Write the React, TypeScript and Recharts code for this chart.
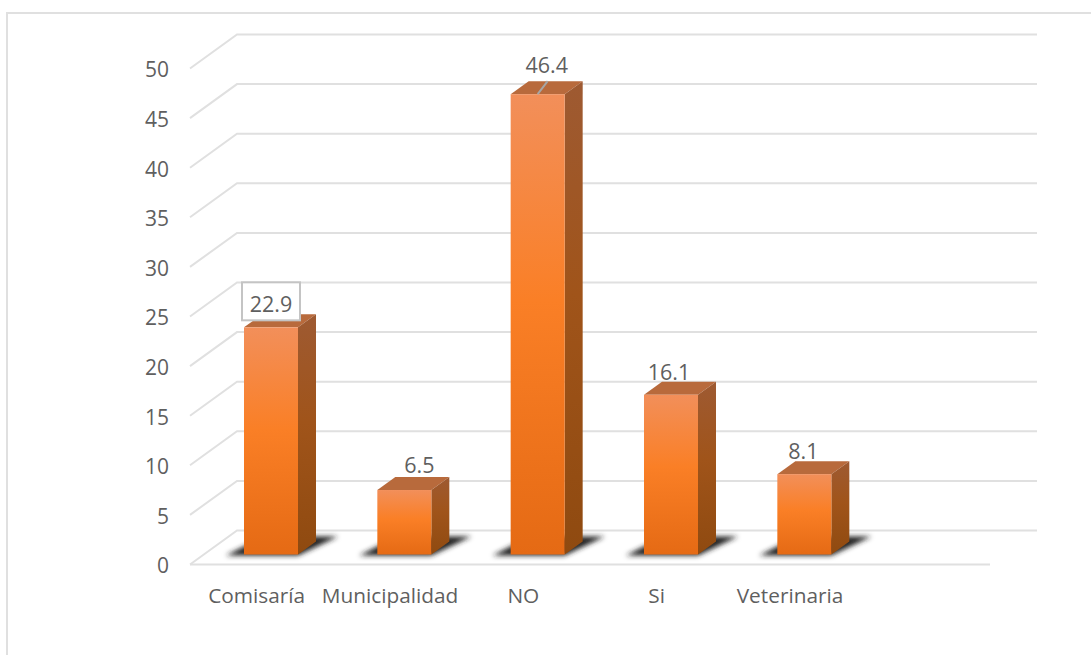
import React from 'react';
import { BarChart, Bar, XAxis, YAxis, CartesianGrid, LabelList } from 'recharts';

const categories = ['Comisaría', 'Municipalidad', 'NO', 'Si', 'Veterinaria', ''];
const values = [22.9, 6.5, 46.4, 16.1, 8.1, null];
const yTicks = [0, 5, 10, 15, 20, 25, 30, 35, 40, 45, 50];

// hand-moved data labels, [dx, dy] from the bar's top centre
const labelNudges = [
    [0, -24],
    [15, -26],
    [9, -30],
    [-2, -23],
    [-1, -24],
];

const chartData = categories.map((name, i) => ({ name, value: values[i] }));

const FONT = '"Open Sans", sans-serif';
const TEXT = '#5f5f5f';
const GRID = '#e0e0e0';

// fake 3D: the walls sit behind the front plane, bars in the middle
const WALL_DX = 47;
const WALL_DY = -34;
const BAR_DX = 14;
const BAR_DY = -10;
const SIDE_DX = 18;
const SIDE_DY = -13;

function WallLine(props: any) {
    const { x1, y1, x2, y2, y, height } = props;
    const isFloor = y1 >= y + height - 0.5;
    return (
        <g fill="none" stroke={GRID} strokeWidth={2}>
            <polyline points={`${x1},${y1} ${x1 + WALL_DX},${y1 + WALL_DY} ${x2 + WALL_DX},${y2 + WALL_DY}`} />
            {isFloor && <line x1={x1} y1={y1} x2={x2} y2={y2} />}
        </g>
    );
}

function Box3D(props: any) {
    const { x, y, width, height, value } = props;
    if (value == null || !height) return null;
    const left = x + BAR_DX;
    const right = left + width;
    const top = y + BAR_DY;
    const base = top + height;
    return (
        <g>
            <polygon
                points={`${left - 18},${base + 1} ${right},${base + 1} ${right + 40},${base - 18} ${left + 20},${base - 18}`}
                fill="#222"
                filter="url(#shadowBlur)"
            />
            <polygon
                points={`${left},${top} ${left + SIDE_DX},${top + SIDE_DY} ${right + SIDE_DX},${top + SIDE_DY} ${right},${top}`}
                fill="#b86a3c"
            />
            <polygon
                points={`${right},${top} ${right + SIDE_DX},${top + SIDE_DY} ${right + SIDE_DX},${base + SIDE_DY} ${right},${base}`}
                fill="url(#sideFill)"
            />
            <rect x={left} y={top} width={width} height={height} fill="url(#frontFill)" />
        </g>
    );
}

function DataLabel(props: any) {
    const { x, y, width, value, index } = props;
    if (value == null) return null;
    const [dx, dy] = labelNudges[index];
    const cx = x + BAR_DX + width / 2 + dx;
    const cy = y + BAR_DY + dy;
    return (
        <g>
            {index === 0 && (
                <rect x={cx - 29} y={cy - 21} width={58} height={38} fill="#fff" stroke="#c4c4c4" strokeWidth={2} />
            )}
            {index === 2 && (
                <line x1={cx - 9} y1={cy + 30} x2={cx + 1} y2={cy + 17} stroke="#a6a6a6" strokeWidth={2} />
            )}
            <text x={cx} y={cy} textAnchor="middle" dominantBaseline="central" fontFamily={FONT} fontSize={21.5} fill={TEXT}>
                {value}
            </text>
        </g>
    );
}

export default function App() {
    return (
        <div style={{ position: 'absolute', left: 0, top: 0, width: 1091, height: 655, overflow: 'hidden', background: '#fff' }}>
            <div
                style={{
                    position: 'absolute',
                    left: 6,
                    top: 12,
                    right: 0,
                    bottom: 0,
                    borderLeft: `2px solid ${GRID}`,
                    borderTop: `2px solid ${GRID}`,
                }}
            />
            <BarChart
                width={1091}
                height={655}
                data={chartData}
                margin={{ top: 68.5, right: 101, bottom: 50.5, left: 0 }}
                style={{ position: 'absolute', left: 0, top: 0 }}
            >
                <defs>
                    <linearGradient id="frontFill" x1="0" y1="0" x2="0" y2="1">
                        <stop offset="0" stopColor="#f28f5a" />
                        <stop offset="0.45" stopColor="#fa7f26" />
                        <stop offset="1" stopColor="#e56a14" />
                    </linearGradient>
                    <linearGradient id="sideFill" x1="0" y1="0" x2="0" y2="1">
                        <stop offset="0" stopColor="#9e5a32" />
                        <stop offset="0.45" stopColor="#a0541a" />
                        <stop offset="1" stopColor="#8f4a10" />
                    </linearGradient>
                    <filter id="shadowBlur" x="-30%" y="-50%" width="160%" height="200%">
                        <feGaussianBlur stdDeviation="2.5" />
                    </filter>
                </defs>
                <CartesianGrid vertical={false} horizontal={<WallLine />} />
                <XAxis
                    dataKey="name"
                    interval={0}
                    axisLine={false}
                    tickLine={false}
                    height={40}
                    tickMargin={18}
                    tick={{ fontFamily: FONT, fontSize: 20.8, fill: TEXT }}
                />
                <YAxis
                    width={190}
                    domain={[0, 50]}
                    ticks={yTicks}
                    interval={0}
                    axisLine={false}
                    tickLine={false}
                    tickMargin={15}
                    tick={{ fontFamily: FONT, fontSize: 21, fill: TEXT, dy: 1.5 }}
                />
                <Bar dataKey="value" barSize={54} isAnimationActive={false} shape={<Box3D />}>
                    <LabelList dataKey="value" content={<DataLabel />} />
                </Bar>
            </BarChart>
        </div>
    );
}
